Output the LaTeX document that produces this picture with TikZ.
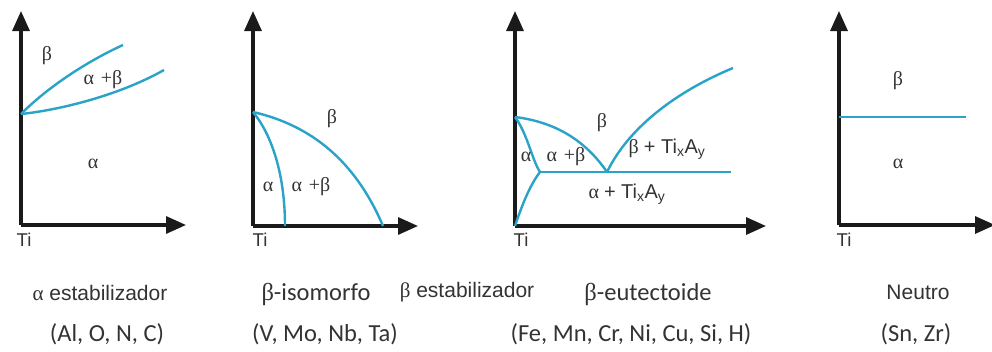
\documentclass[tikz,border=0pt]{standalone}
\usepackage{fontspec}
\setmainfont{Liberation Sans}
\newfontfamily\calib{Carlito}
\newfontfamily\grk{Liberation Serif}
\newfontfamily\sansf{Liberation Sans}
\usetikzlibrary{arrows.meta}
\definecolor{curveblue}{HTML}{2AA3C8}
\definecolor{txtgray}{HTML}{333333}
\definecolor{axisblack}{HTML}{1A1A1A}
\newcommand{\tixay}{{\sansf + Ti\textsubscript{x}A\textsubscript{y}}}
\tikzset{
  axis/.style={axisblack, line width=3.2pt, -{Triangle[length=20pt,width=17pt]}},
  phase/.style={curveblue, line width=2.4pt},
  lbl/.style={text=txtgray, font=\fontsize{20}{22}\selectfont\grk, inner sep=0pt},
  tilbl/.style={text=txtgray, font=\fontsize{18.5}{20}\selectfont, inner sep=0pt},
  captxt/.style={text=txtgray, font=\fontsize{21}{24}\selectfont, inner sep=0pt},
  captxc/.style={text=txtgray, font=\fontsize{24.5}{28}\selectfont\calib, inner sep=0pt}
}
\begin{document}
\begin{tikzpicture}[x=1pt,y=-1pt]
\useasboundingbox[fill=white] (0,0) rectangle (992,351);
% ---------- panel 1 ----------
\coordinate (o1) at (21,225);
\coordinate (t1) at (21,11);
\coordinate (r1) at (186,225);
\coordinate (p1) at (21,114);
\coordinate (u1) at (123,45);
\coordinate (l1) at (164,70);
\draw[axis] (o1) -- (t1);
\draw[axis] (o1) -- (r1);
\draw[phase] (p1) .. controls (50,85) and (90,60) .. (u1);
\draw[phase] (p1) .. controls (60,110) and (120,95) .. (l1);
\node[lbl] (b1) at (47,56) {β};
\node[lbl] (ab1) at (103,80) {α\,\,+β};
\node[lbl] (a1) at (93,164) {α};
\node[tilbl] (ti1) at (24,240) {Ti};
% ---------- panel 2 ----------
\coordinate (o2) at (253,226);
\coordinate (t2) at (253,11);
\coordinate (r2) at (418,226);
\coordinate (p2) at (253,112);
\coordinate (i2) at (285,226);
\coordinate (e2) at (383,226);
\draw[axis] (o2) -- (t2);
\draw[axis] (o2) -- (r2);
\draw[phase] (p2) .. controls (272,135) and (285,175) .. (i2);
\draw[phase] (p2) .. controls (310,125) and (355,160) .. (e2);
\node[lbl] (b2) at (332,119) {β};
\node[lbl] (a2) at (268,187) {α};
\node[lbl] (ab2) at (311,187) {α\,\,+β};
\node[tilbl] (ti2) at (260,240) {Ti};
% ---------- panel 3 ----------
\coordinate (o3) at (515,226);
\coordinate (t3) at (515,11);
\coordinate (r3) at (766,226);
\coordinate (a3) at (515,117);
\coordinate (j3) at (540,172);
\coordinate (e3) at (607,172);
\coordinate (h3) at (731,172);
\coordinate (q3) at (733,68);
\draw[axis] (o3) -- (t3);
\draw[axis] (o3) -- (r3);
\draw[phase] (a3) .. controls (555,122) and (585,140) .. (e3);
\draw[phase] (a3) .. controls (528,135) and (532,160) .. (j3);
\draw[phase] (j3) .. controls (530,185) and (522,205) .. (o3);
\draw[phase] (j3) -- (h3);
\draw[phase] (e3) .. controls (630,125) and (680,90) .. (q3);
\node[lbl] (b3) at (602,123) {β};
\node[lbl] (bt3) at (667,149) {β \tixay};
\node[lbl] (aa3) at (526,157) {α};
\node[lbl] (ab3) at (566,157) {α\,\,+β};
\node[lbl] (at3) at (627,194) {α \tixay};
\node[tilbl] (ti3) at (521,240) {Ti};
% ---------- panel 4 ----------
\coordinate (o4) at (839,225);
\coordinate (t4) at (839,11);
\coordinate (r4) at (995,225);
\coordinate (p4) at (839,117);
\coordinate (h4) at (966,117);
\draw[axis] (o4) -- (t4);
\draw[axis] (o4) -- (r4);
\draw[phase] (p4) -- (h4);
\node[lbl] (b4) at (898,81) {β};
\node[lbl] (a4) at (898,164) {α};
\node[tilbl] (ti4) at (844,240) {Ti};
% ---------- captions ----------
\node[captxt] (c1) at (100,293) {{\grk α} estabilizador};
\node[captxc] (c2) at (316,294) {{\grk β}-isomorfo};
\node[captxt] (c3) at (467,292) {{\grk β} estabilizador};
\node[captxc] (c4) at (648,294) {{\grk β}-eutectoide};
\node[captxt] (c5) at (918,292) {Neutro};
\node[captxc] (d1) at (107,334) {(Al, O, N, C)};
\node[captxc] (d2) at (325,334) {(V, Mo, Nb, Ta)};
\node[captxc] (d3) at (631,334) {(Fe, Mn, Cr, Ni, Cu, Si, H)};
\node[captxc] (d4) at (916,334) {(Sn, Zr)};
\end{tikzpicture}
\end{document}
